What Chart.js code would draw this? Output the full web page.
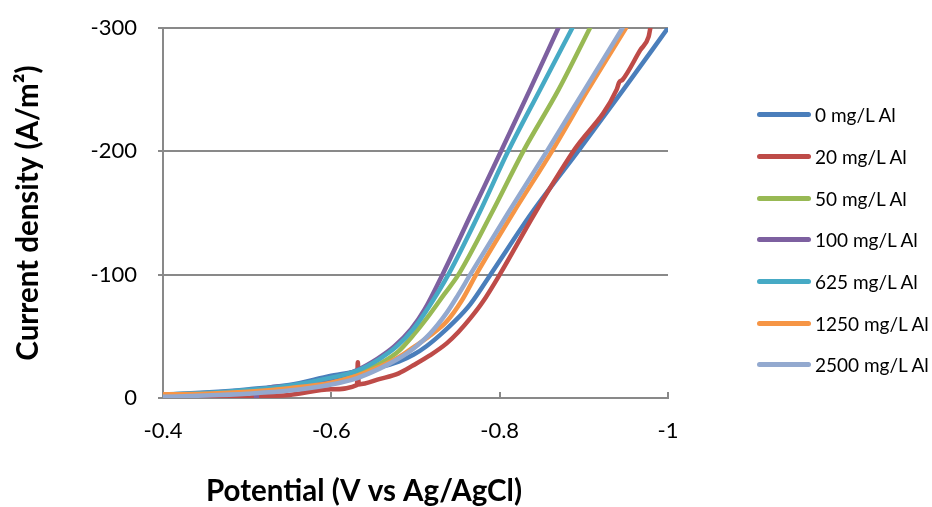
<!DOCTYPE html>
<html>
<head>
<meta charset="utf-8">
<title>Cathodic polarisation</title>
<script src="https://cdn.jsdelivr.net/npm/chart.js@4.4.0/dist/chart.umd.min.js"></script>
<style>
body{margin:0;background:#fff;}
#wrap{position:relative;width:932px;height:507px;}
#legend{position:absolute;left:757px;top:94px;font-family:Lato, sans-serif;font-size:19px;color:#000;}
.row{height:41.7px;display:flex;align-items:center;white-space:nowrap;}
.swatch{width:54px;height:5px;border-radius:3px;margin-right:4px;}
</style>
</head>
<body>
<div id="wrap">
  <canvas id="chart" width="932" height="507"></canvas>
  <div id="legend"></div>
</div>
<script>
//Series names and colours
var seriesNames = ["0 mg/L Al", "20 mg/L Al", "50 mg/L Al", "100 mg/L Al", "625 mg/L Al", "1250 mg/L Al", "2500 mg/L Al"];
var seriesColors = ["#4A7EBB", "#BE4B48", "#98B954", "#7D60A0", "#46AAC5", "#F69545", "#93A9CF"];

//Data: [potential (V vs Ag/AgCl), current density (A/m2)]
var al0 = [[-0.40,-2.5],[-0.45,-4.5],[-0.50,-7],[-0.55,-10.5],[-0.60,-18],[-0.63,-21.5],[-0.658,-25],[-0.68,-29.5],
  [-0.6974,-35],[-0.713,-42],[-0.729,-51],[-0.747,-62.5],[-0.765,-76],[-0.789,-100],[-0.838,-150],[-0.893,-200],
  [-0.947,-250],[-1.0,-300]];
var al20 = [[-0.40,0.5],[-0.45,0],[-0.50,-1],[-0.55,-2.5],[-0.60,-7],[-0.6305,-10.5],[-0.6315,-29],[-0.6325,-11],
  [-0.658,-15.5],[-0.68,-20],[-0.6974,-26.5],[-0.717,-34.5],[-0.737,-44.3],[-0.751,-53.5],[-0.765,-64.5],[-0.78,-78],
  [-0.80,-100],[-0.842,-150],[-0.8875,-200],[-0.939,-250],[-0.942,-256],[-0.946,-258],[-0.967,-282],[-0.977,-293],
  [-0.979,-300]];
var al50 = [[-0.40,-2.5],[-0.45,-3.5],[-0.50,-5.5],[-0.55,-9],[-0.60,-14],[-0.63,-20],[-0.658,-28],[-0.68,-38],
  [-0.6974,-51],[-0.716,-67],[-0.734,-84],[-0.751,-100],[-0.7905,-150],[-0.828,-200],[-0.870,-250],[-0.9073,-300]];
var al100 = [[-0.40,-2.5],[-0.45,-3.5],[-0.50,-5],[-0.51,-5.3],[-0.511,2.5],[-0.512,-5.4],[-0.55,-9.5],[-0.60,-16],
  [-0.63,-22.5],[-0.655,-32],[-0.675,-42],[-0.695,-56],[-0.711,-72],[-0.732,-100],[-0.7667,-150],[-0.8016,-200],
  [-0.836,-250],[-0.8697,-300]];
var al625 = [[-0.40,-3],[-0.45,-4],[-0.50,-6.5],[-0.55,-10],[-0.60,-16.5],[-0.63,-22],[-0.658,-32],[-0.678,-42],
  [-0.698,-56.5],[-0.716,-74],[-0.739,-100],[-0.7758,-150],[-0.810,-200],[-0.848,-250],[-0.8863,-300]];
var al1250 = [[-0.40,-3],[-0.45,-3.5],[-0.50,-5],[-0.55,-8],[-0.60,-12.5],[-0.63,-18],[-0.658,-25.5],[-0.68,-33],
  [-0.6974,-41],[-0.717,-50.5],[-0.737,-62],[-0.755,-79],[-0.772,-100],[-0.816,-150],[-0.862,-200],[-0.905,-250],
  [-0.950,-300]];
var al2500 = [[-0.40,-1],[-0.45,-2],[-0.50,-3.5],[-0.55,-6],[-0.60,-11],[-0.63,-16],[-0.658,-24],[-0.68,-32],
  [-0.6974,-40],[-0.717,-52],[-0.737,-69],[-0.751,-84],[-0.765,-100],[-0.810,-150],[-0.856,-200],[-0.901,-250],
  [-0.946,-300]];
var seriesData = [al0, al20, al50, al100, al625, al1250, al2500];

//Axis ticks and titles
var xTickValues = [-0.4, -0.6, -0.8, -1];
var xTickLabels = ["-0.4", "-0.6", "-0.8", "-1"];
var yTickValues = [0, -100, -200, -300];
var yTickLabels = ["0", "-100", "-200", "-300"];
var xTitle = "Potential (V vs Ag/AgCl)";
var yTitle = "Current density (A/m\u00B2)";

var gridColor = "#898989";
var fontName = "Lato";

function toPoints(arr){
  var pts = [];
  for(var i = 0; i < arr.length; i++){
    pts.push({x: arr[i][0], y: arr[i][1]});
  }
  return pts;
}

//Build the legend next to the canvas
function makeLegend(){
  var box = document.getElementById("legend");
  for(var i = 0; i < seriesNames.length; i++){
    var row = document.createElement("div");
    row.className = "row";
    var sw = document.createElement("span");
    sw.className = "swatch";
    sw.style.background = seriesColors[i];
    var txt = document.createElement("span");
    txt.textContent = seriesNames[i];
    row.appendChild(sw);
    row.appendChild(txt);
    box.appendChild(row);
  }
}

//Inward tick marks and the x title (placed like the original, left of centre)
var extras = {
  id: "extras",
  beforeDatasetsDraw: function(chart){
    var ctx = chart.ctx;
    var xs = chart.scales.x;
    var area = chart.chartArea;
    ctx.save();
    ctx.strokeStyle = gridColor;
    ctx.lineWidth = 2;
    for(var i = 0; i < xTickValues.length; i++){
      var px = Math.round(xs.getPixelForValue(xTickValues[i]));
      ctx.beginPath();
      ctx.moveTo(px, area.bottom);
      ctx.lineTo(px, area.bottom - 6);
      ctx.stroke();
    }
    ctx.restore();
  },
  afterDraw: function(chart){
    var ctx = chart.ctx;
    ctx.save();
    ctx.font = "bold 29.5px " + fontName;
    ctx.fillStyle = "#000";
    ctx.textAlign = "center";
    ctx.textBaseline = "alphabetic";
    ctx.fillText(xTitle, 364, 501);
    ctx.restore();
  }
};

function initChart(){
  makeLegend();
  var datasets = [];
  for(var i = 0; i < seriesData.length; i++){
    datasets.push({
      label: seriesNames[i],
      data: toPoints(seriesData[i]),
      borderColor: seriesColors[i],
      backgroundColor: seriesColors[i],
      borderWidth: 4.5,
      pointRadius: 0,
      pointHoverRadius: 0,
      cubicInterpolationMode: "monotone",
      borderCapStyle: "round",
      borderJoinStyle: "round",
      fill: false,
      order: seriesData.length - i
    });
  }

  var ctx = document.getElementById("chart").getContext("2d");
  new Chart(ctx, {
    type: "line",
    data: {datasets: datasets},
    plugins: [extras],
    options: {
      responsive: false,
      animation: false,
      devicePixelRatio: 1,
      layout: {autoPadding: false, padding: {left: 0, right: 264, top: 28, bottom: 0}},
      plugins: {
        legend: {display: false},
        tooltip: {enabled: false}
      },
      scales: {
        x: {
          type: "linear",
          min: -1,
          max: -0.4,
          reverse: true,
          afterFit: function(scale){ scale.height = 109; },
          afterBuildTicks: function(axis){
            axis.ticks = xTickValues.map(function(v){ return {value: v}; });
          },
          ticks: {
            color: "#000",
            font: {family: fontName, size: 22},
            padding: 20,
            maxRotation: 0,
            autoSkip: false,
            callback: function(value, index){ return xTickLabels[index]; }
          },
          grid: {display: true, drawOnChartArea: false, drawTicks: false, color: gridColor},
          border: {display: true, color: gridColor, width: 2},
          title: {display: false}
        },
        y: {
          type: "linear",
          min: -300,
          max: 0,
          reverse: true,
          afterFit: function(scale){
            scale.width = 163;
            scale.paddingTop = 14;
            scale.paddingBottom = 14;
          },
          afterBuildTicks: function(axis){
            axis.ticks = yTickValues.map(function(v){ return {value: v}; });
          },
          ticks: {
            color: "#000",
            font: {family: fontName, size: 22},
            padding: 21,
            callback: function(value, index){ return yTickLabels[index]; }
          },
          grid: {color: gridColor, lineWidth: 2, drawTicks: true, tickLength: 5},
          border: {display: true, color: gridColor, width: 2},
          title: {
            display: true,
            text: yTitle,
            color: "#000",
            font: {family: fontName, size: 29.5, weight: "bold"},
            padding: {top: 11, bottom: 0}
          }
        }
      }
    }
  });
}

window.onload = initChart;
</script>
</body>
</html>
